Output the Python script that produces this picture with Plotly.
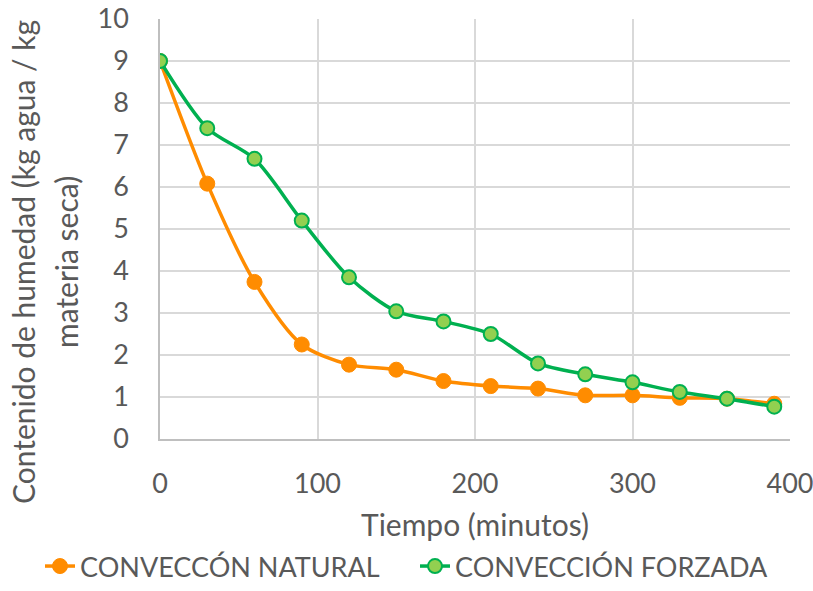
import plotly.graph_objects as go

tiempo = [0, 30, 60, 90, 120, 150, 180, 210, 240, 270, 300, 330, 360, 390]
natural = [9.0, 6.08, 3.74, 2.25, 1.77, 1.65, 1.38, 1.26, 1.20, 1.04, 1.04, 0.98, 0.96, 0.84]
forzada = [9.0, 7.40, 6.67, 5.20, 3.85, 3.04, 2.80, 2.50, 1.80, 1.54, 1.35, 1.12, 0.96, 0.77]

x_ticks = [0, 100, 200, 300, 400]
y_ticks = list(range(0, 11))

titulo_y = ["Contenido de humedad (kg agua / kg", "materia seca)"]
titulo_x = "Tiempo (minutos)"

FONT = "Lato"
TXT = "#595959"

fig = go.Figure()
fig.add_trace(go.Scatter(
    x=tiempo, y=natural, mode="lines+markers", name="CONVECCÓN NATURAL",
    line=dict(color="#FF8C00", width=3.5, shape="spline", smoothing=0.8),
    marker=dict(symbol="circle", size=15, color="#FF8C00", line=dict(color="#FF8C00", width=1)),
    legend="legend",
))
fig.add_trace(go.Scatter(
    x=tiempo, y=forzada, mode="lines+markers", name="CONVECCIÓN FORZADA",
    line=dict(color="#00B050", width=3.5, shape="spline", smoothing=0.8),
    marker=dict(symbol="circle", size=14, color="#92D050", line=dict(color="#00B050", width=2)),
    legend="legend2",
))

leg_common = dict(orientation="h", xref="container", yref="container",
                  y=0.0, yanchor="bottom", xanchor="left",
                  font=dict(family=FONT, size=27, color=TXT),
                  bgcolor="rgba(0,0,0,0)", borderwidth=0)

fig.update_layout(
    width=813, height=591,
    margin=dict(l=160, r=23, t=19, b=152, autoexpand=False),
    paper_bgcolor="white", plot_bgcolor="white",
    font=dict(family=FONT, size=26, color=TXT),
    showlegend=True,
    legend=dict(x=40 / 813, **leg_common),
    legend2=dict(x=415 / 813, **leg_common),
    xaxis=dict(
        range=[0, 400], tickvals=x_ticks, ticktext=[str(v) for v in x_ticks],
        showgrid=True, gridcolor="#d9d9d9", gridwidth=1.5,
        showline=True, linecolor="#bfbfbf", linewidth=1.5,
        zeroline=False, ticks="", tickfont=dict(size=27, color=TXT),
        ticklabelstandoff=20, ticklabeloverflow="allow",
        title=dict(text=titulo_x, font=dict(size=30, color=TXT), standoff=19),
    ),
    yaxis=dict(
        range=[0, 10], tickvals=y_ticks, ticktext=[str(v) for v in y_ticks],
        showgrid=True, gridcolor="#d9d9d9", gridwidth=1.5,
        showline=True, linecolor="#bfbfbf", linewidth=1.5,
        zeroline=False, ticks="", tickfont=dict(size=27, color=TXT),
        ticklabelstandoff=24, ticklabeloverflow="allow",
    ),
)

for texto, px in zip(titulo_y, [23, 66]):
    fig.add_annotation(
        text=texto, textangle=-90, showarrow=False,
        xref="paper", yref="paper",
        x=(px - 160) / 630, y=(439 - 262) / 420,
        xanchor="center", yanchor="middle",
        font=dict(family=FONT, size=30, color=TXT),
    )

fig.write_html("out.html")
